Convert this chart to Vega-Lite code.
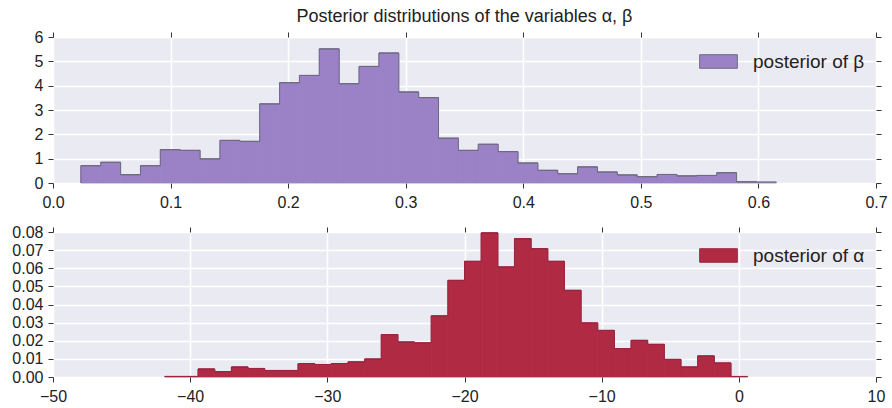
{
  "$schema": "https://vega.github.io/schema/vega-lite/v6.json",
  "padding": {"left": 11, "top": 8, "right": 5, "bottom": 5},
  "background": "white",
  "spacing": 14,
  "datasets": {
    "beta": [
      {"start": 0.0237, "end": 0.0406, "density": 0.71},
      {"start": 0.0406, "end": 0.0575, "density": 0.85},
      {"start": 0.0575, "end": 0.0744, "density": 0.34},
      {"start": 0.0744, "end": 0.0913, "density": 0.71},
      {"start": 0.0913, "end": 0.1082, "density": 1.37},
      {"start": 0.1082, "end": 0.1251, "density": 1.34},
      {"start": 0.1251, "end": 0.1420, "density": 0.99},
      {"start": 0.1420, "end": 0.1589, "density": 1.75},
      {"start": 0.1589, "end": 0.1758, "density": 1.71},
      {"start": 0.1758, "end": 0.1927, "density": 3.25},
      {"start": 0.1927, "end": 0.2096, "density": 4.12},
      {"start": 0.2096, "end": 0.2265, "density": 4.42},
      {"start": 0.2265, "end": 0.2434, "density": 5.51},
      {"start": 0.2434, "end": 0.2603, "density": 4.08},
      {"start": 0.2603, "end": 0.2772, "density": 4.79},
      {"start": 0.2772, "end": 0.2941, "density": 5.34},
      {"start": 0.2941, "end": 0.3110, "density": 3.74},
      {"start": 0.3110, "end": 0.3279, "density": 3.51},
      {"start": 0.3279, "end": 0.3448, "density": 1.84},
      {"start": 0.3448, "end": 0.3617, "density": 1.34},
      {"start": 0.3617, "end": 0.3786, "density": 1.59},
      {"start": 0.3786, "end": 0.3955, "density": 1.29},
      {"start": 0.3955, "end": 0.4124, "density": 0.82},
      {"start": 0.4124, "end": 0.4293, "density": 0.52},
      {"start": 0.4293, "end": 0.4462, "density": 0.38},
      {"start": 0.4462, "end": 0.4631, "density": 0.66},
      {"start": 0.4631, "end": 0.4800, "density": 0.45},
      {"start": 0.4800, "end": 0.4969, "density": 0.33},
      {"start": 0.4969, "end": 0.5138, "density": 0.26},
      {"start": 0.5138, "end": 0.5307, "density": 0.35},
      {"start": 0.5307, "end": 0.5476, "density": 0.29},
      {"start": 0.5476, "end": 0.5645, "density": 0.31},
      {"start": 0.5645, "end": 0.5814, "density": 0.42},
      {"start": 0.5814, "end": 0.5983, "density": 0.05},
      {"start": 0.5983, "end": 0.6152, "density": 0.04}
    ],
    "alpha": [
      {"start": -41.850, "end": -40.636, "density": 0.0003},
      {"start": -40.636, "end": -39.422, "density": 0.0003},
      {"start": -39.422, "end": -38.208, "density": 0.0044},
      {"start": -38.208, "end": -36.994, "density": 0.0030},
      {"start": -36.994, "end": -35.780, "density": 0.0055},
      {"start": -35.780, "end": -34.566, "density": 0.0047},
      {"start": -34.566, "end": -33.352, "density": 0.0036},
      {"start": -33.352, "end": -32.138, "density": 0.0036},
      {"start": -32.138, "end": -30.924, "density": 0.0074},
      {"start": -30.924, "end": -29.710, "density": 0.0069},
      {"start": -29.710, "end": -28.496, "density": 0.0074},
      {"start": -28.496, "end": -27.282, "density": 0.0083},
      {"start": -27.282, "end": -26.068, "density": 0.0099},
      {"start": -26.068, "end": -24.854, "density": 0.0234},
      {"start": -24.854, "end": -23.640, "density": 0.0193},
      {"start": -23.640, "end": -22.426, "density": 0.0188},
      {"start": -22.426, "end": -21.212, "density": 0.0337},
      {"start": -21.212, "end": -19.998, "density": 0.0533},
      {"start": -19.998, "end": -18.784, "density": 0.0638},
      {"start": -18.784, "end": -17.570, "density": 0.0795},
      {"start": -17.570, "end": -16.356, "density": 0.0607},
      {"start": -16.356, "end": -15.142, "density": 0.0763},
      {"start": -15.142, "end": -13.928, "density": 0.0708},
      {"start": -13.928, "end": -12.714, "density": 0.0638},
      {"start": -12.714, "end": -11.500, "density": 0.0478},
      {"start": -11.500, "end": -10.286, "density": 0.0298},
      {"start": -10.286, "end": -9.072, "density": 0.0257},
      {"start": -9.072, "end": -7.858, "density": 0.0156},
      {"start": -7.858, "end": -6.644, "density": 0.0202},
      {"start": -6.644, "end": -5.430, "density": 0.0180},
      {"start": -5.430, "end": -4.216, "density": 0.0097},
      {"start": -4.216, "end": -3.002, "density": 0.0055},
      {"start": -3.002, "end": -1.788, "density": 0.0116},
      {"start": -1.788, "end": -0.574, "density": 0.0077},
      {"start": -0.574, "end": 0.640, "density": 0.0003}
    ]
  },
  "vconcat": [
    {
      "width": 823,
      "height": 146,
      "title": {"text": "Posterior distributions of the variables α, β", "anchor": "middle", "offset": 3},
      "data": {"name": "beta"},
      "layer": [
        {
          "mark": {"type": "bar", "stroke": "#9B82C6", "strokeWidth": 0.8},
          "encoding": {
            "x": {"field": "start", "type": "quantitative", "scale": {"domain": [0, 0.7], "nice": false, "zero": false},
                  "axis": {"orient": "bottom", "values": [0, 0.1, 0.2, 0.3, 0.4, 0.5, 0.6, 0.7], "format": ".1f"}},
            "x2": {"field": "end"},
            "y": {"field": "density", "type": "quantitative", "scale": {"domain": [0, 6], "nice": false},
                  "axis": {"orient": "left", "values": [0, 1, 2, 3, 4, 5, 6], "format": "d"}},
            "y2": {"datum": 0},
            "color": {"datum": "posterior of β", "type": "nominal", "scale": {"range": ["#9B82C6"]},
                      "legend": {"orient": "none", "legendX": 646, "legendY": 5, "symbolStrokeColor": "#6E6A80", "symbolStrokeWidth": 1}}
          }
        },
        {
          "mark": {"type": "rule", "color": "#6E6A80", "strokeWidth": 1},
          "encoding": {
            "x": {"field": "start", "type": "quantitative",
                  "axis": {"orient": "top", "labels": false, "grid": false, "values": [0, 0.1, 0.2, 0.3, 0.4, 0.5, 0.6, 0.7]}},
            "x2": {"field": "end"},
            "y": {"field": "density", "type": "quantitative",
                  "axis": {"orient": "right", "labels": false, "grid": false, "values": [0, 1, 2, 3, 4, 5, 6]}}
          }
        },
        {
          "mark": {"type": "line", "interpolate": "step-after", "color": "#6E6A80", "strokeWidth": 1},
          "encoding": {
            "x": {"field": "start", "type": "quantitative", "axis": null},
            "y": {"field": "density", "type": "quantitative", "axis": null}
          }
        },
        {
          "transform": [{"filter": "datum.start < 0.03"}],
          "mark": {"type": "rule", "color": "#6E6A80", "strokeWidth": 1},
          "encoding": {
            "x": {"field": "start", "type": "quantitative", "axis": null},
            "y": {"field": "density", "type": "quantitative", "axis": null},
            "y2": {"datum": 0}
          }
        }
      ],
      "resolve": {"axis": {"x": "independent", "y": "independent"}}
    },
    {
      "width": 823,
      "height": 145,
      "data": {"name": "alpha"},
      "layer": [
        {
          "mark": {"type": "bar", "stroke": "#B02A44", "strokeWidth": 0.8},
          "encoding": {
            "x": {"field": "start", "type": "quantitative", "scale": {"domain": [-50, 10], "nice": false, "zero": false},
                  "axis": {"orient": "bottom", "values": [-50, -40, -30, -20, -10, 0, 10], "format": "d"}},
            "x2": {"field": "end"},
            "y": {"field": "density", "type": "quantitative", "scale": {"domain": [0, 0.08], "nice": false},
                  "axis": {"orient": "left", "values": [0, 0.01, 0.02, 0.03, 0.04, 0.05, 0.06, 0.07, 0.08], "format": ".2f"}},
            "y2": {"datum": 0},
            "color": {"datum": "posterior of α", "type": "nominal", "scale": {"range": ["#B02A44"]},
                      "legend": {"orient": "none", "legendX": 646, "legendY": 4, "symbolStrokeColor": "#A02840", "symbolStrokeWidth": 1}}
          }
        },
        {
          "mark": {"type": "rule", "color": "#962640", "strokeWidth": 1},
          "encoding": {
            "x": {"field": "start", "type": "quantitative",
                  "axis": {"orient": "top", "labels": false, "grid": false, "values": [-50, -40, -30, -20, -10, 0, 10]}},
            "x2": {"field": "end"},
            "y": {"field": "density", "type": "quantitative",
                  "axis": {"orient": "right", "labels": false, "grid": false, "values": [0, 0.01, 0.02, 0.03, 0.04, 0.05, 0.06, 0.07, 0.08]}}
          }
        },
        {
          "mark": {"type": "line", "interpolate": "step-after", "color": "#962640", "strokeWidth": 1},
          "encoding": {
            "x": {"field": "start", "type": "quantitative", "axis": null},
            "y": {"field": "density", "type": "quantitative", "axis": null}
          }
        }
      ],
      "resolve": {"axis": {"x": "independent", "y": "independent"}}
    }
  ],
  "resolve": {"scale": {"color": "independent"}, "legend": {"color": "independent"}},
  "config": {
    "font": "Liberation Sans",
    "view": {"fill": "#EAEAF2", "stroke": null},
    "axis": {
      "grid": true, "gridColor": "#FFFFFF", "gridWidth": 1.5, "domain": false,
      "tickColor": "#333333", "tickSize": 5, "tickWidth": 1,
      "labelFont": "Liberation Sans", "labelFontSize": 16, "labelColor": "#222222",
      "labelPadding": 5, "labelFlush": false, "title": null
    },
    "axisX": {"labelPadding": 6},
    "legend": {
      "title": null, "padding": 0,
      "symbolType": "M-1,-0.36L1,-0.36L1,0.36L-1,0.36Z", "symbolSize": 1421,
      "labelFont": "Liberation Sans", "labelFontSize": 19, "labelColor": "#222222", "labelOffset": 15
    },
    "title": {"font": "Liberation Sans", "fontSize": 18, "fontWeight": "normal", "color": "#222222"}
  }
}
